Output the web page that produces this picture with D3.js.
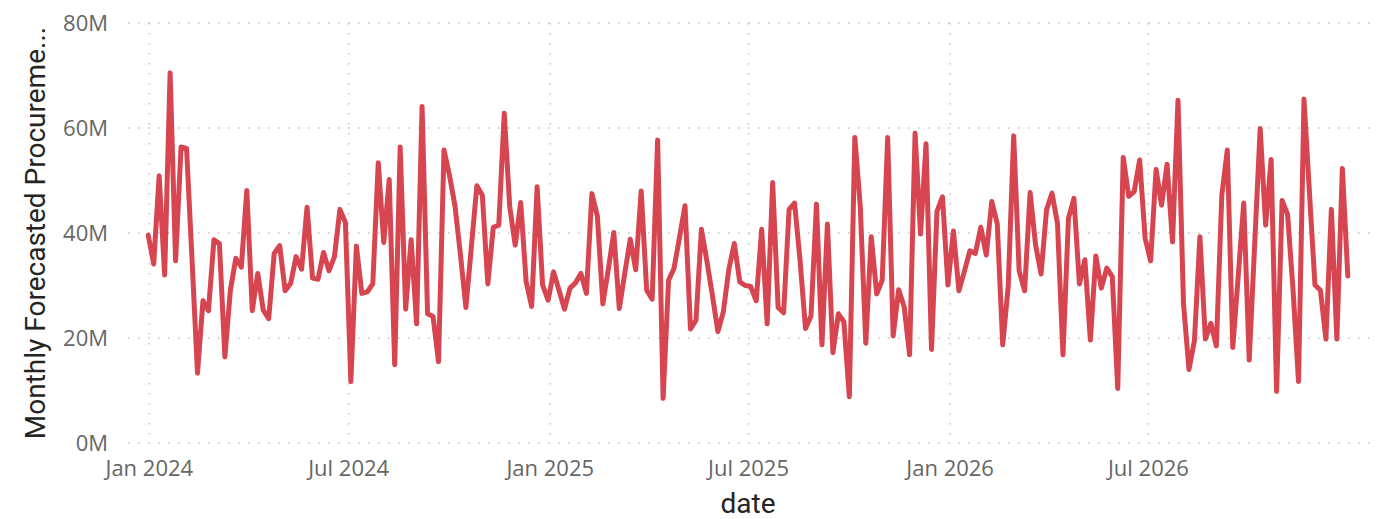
<!DOCTYPE html>
<html>
<head>
<meta charset="utf-8">
<script src="https://cdn.jsdelivr.net/npm/d3@7"></script>
<style>
  html, body { margin: 0; padding: 0; background: #fff; }
  svg { display: block; }
</style>
</head>
<body>
<svg id="chart" width="1377" height="519"></svg>
<script>
// ---- data ----
const seriesName = "Monthly Forecasted Procureme...";
const xTitle = "date";
const firstDate = "2023-12-31";
const stepDays = 5;
const values = [
  39.6, 34.1, 50.9, 32.0, 70.5, 34.7, 56.4, 56.1, 35.0, 13.3,
  27.1, 25.2, 38.7, 38.0, 16.4, 29.1, 35.2, 33.5, 48.1, 25.2,
  32.3, 25.3, 23.7, 36.1, 37.6, 29.0, 30.4, 35.5, 33.1, 44.9,
  31.4, 31.2, 36.3, 32.8, 35.5, 44.5, 42.0, 11.7, 37.5, 28.5,
  28.8, 30.3, 53.4, 38.2, 50.2, 14.9, 56.4, 25.5, 38.7, 22.7,
  64.1, 24.6, 24.1, 15.5, 55.8, 51.0, 45.2, 35.9, 25.8, 37.4,
  49.0, 47.2, 30.3, 41.1, 41.5, 62.8, 45.0, 37.7, 45.8, 30.7,
  26.0, 48.8, 30.1, 27.2, 32.6, 29.1, 25.5, 29.5, 30.5, 32.3,
  28.5, 47.5, 43.2, 26.5, 33.1, 40.1, 25.6, 32.3, 38.8, 33.0,
  48.0, 29.1, 27.4, 57.7, 8.5, 31.0, 33.3, 39.2, 45.2, 21.7,
  23.4, 40.7, 34.6, 28.1, 21.2, 25.0, 33.1, 38.0, 30.7, 30.0,
  29.8, 27.1, 40.7, 22.7, 49.6, 25.8, 24.8, 44.5, 45.7, 34.8,
  21.8, 24.2, 45.5, 18.7, 41.7, 17.2, 24.6, 23.1, 8.8, 58.2,
  45.0, 19.0, 39.3, 28.4, 31.0, 58.2, 20.4, 29.2, 26.0, 16.8,
  59.0, 39.8, 57.0, 17.8, 44.1, 46.9, 30.1, 40.4, 29.0, 32.7,
  36.6, 36.1, 41.1, 35.8, 46.0, 41.8, 18.7, 29.8, 58.5, 32.8,
  29.0, 47.7, 37.7, 32.2, 44.4, 47.6, 41.8, 16.8, 42.8, 46.6,
  30.3, 34.9, 19.6, 35.6, 29.5, 33.3, 31.7, 10.4, 54.4, 47.0,
  47.9, 53.9, 39.0, 34.7, 52.1, 45.3, 53.1, 38.3, 65.3, 26.6,
  14.0, 19.5, 39.3, 19.8, 22.8, 18.5, 47.2, 55.8, 18.2, 31.9,
  45.7, 15.8, 37.9, 59.9, 41.5, 54.0, 9.8, 46.2, 43.6, 29.2,
  11.7, 65.5, 47.7, 30.1, 29.1, 19.8, 44.5, 19.8, 52.3, 31.8
].map(v => v * 1e6);
const yTicks = [0, 20e6, 40e6, 60e6, 80e6];

// ---- build ----
const parse = d3.timeParse("%Y-%m-%d");
const start = parse(firstDate);
const data = values.map((v, i) => ({ date: d3.timeDay.offset(start, i * stepDays), value: v }));

const svg = d3.select("#chart");
const plotLeft = 128, plotRight = 1370;

const x = d3.scaleTime()
  .domain([parse("2024-01-01"), parse("2027-01-01")])
  .range([149.3, 1350]);
const y = d3.scaleLinear().domain([0, 80e6]).range([443, 23]);

const xTicks = d3.timeMonth.every(6).range(parse("2024-01-01"), parse("2027-01-01"));

const gridColor = "#C8C6C4";
// horizontal grid
svg.append("g").selectAll("line").data(yTicks).join("line")
  .attr("x1", plotLeft).attr("x2", plotRight)
  .attr("y1", d => y(d)).attr("y2", d => y(d))
  .attr("stroke", gridColor).attr("stroke-width", 1.6)
  .attr("stroke-dasharray", "1.6,8.4");
// vertical grid
svg.append("g").selectAll("line").data(xTicks).join("line")
  .attr("x1", d => x(d)).attr("x2", d => x(d))
  .attr("y1", y(80e6)).attr("y2", y(0))
  .attr("stroke", gridColor).attr("stroke-width", 1.6)
  .attr("stroke-dasharray", "1.6,8.4");

// y tick labels
const fmtM = d => (d / 1e6) + "M";
svg.append("g").selectAll("text").data(yTicks).join("text")
  .attr("x", 108).attr("y", d => y(d))
  .attr("dy", "0.35em")
  .attr("text-anchor", "end")
  .attr("font-family", "'Open Sans', 'Noto Sans', sans-serif")
  .attr("font-size", 22)
  .attr("fill", "#666666")
  .text(fmtM);

// x tick labels
const fmtX = d3.timeFormat("%b %Y");
svg.append("g").selectAll("text").data(xTicks).join("text")
  .attr("x", d => x(d)).attr("y", 476)
  .attr("text-anchor", "middle")
  .attr("font-family", "'Open Sans', 'Noto Sans', sans-serif")
  .attr("font-size", 22)
  .attr("fill", "#666666")
  .text(fmtX);

// axis titles
svg.append("text")
  .attr("x", 748).attr("y", 513)
  .attr("text-anchor", "middle")
  .attr("font-family", "'Roboto', 'Noto Sans', sans-serif")
  .attr("font-size", 28)
  .attr("fill", "#252423")
  .text(xTitle);

svg.append("text")
  .attr("transform", "translate(45,233) rotate(-90)")
  .attr("text-anchor", "middle")
  .attr("font-family", "'Roboto', 'Noto Sans', sans-serif")
  .attr("font-size", 28)
  .attr("fill", "#252423")
  .text(seriesName);

// line
const line = d3.line().x(d => x(d.date)).y(d => y(d.value));
svg.append("path")
  .datum(data)
  .attr("d", line)
  .attr("fill", "none")
  .attr("stroke", "#D64550")
  .attr("stroke-width", 5)
  .attr("stroke-linejoin", "round")
  .attr("stroke-linecap", "round");
</script>
</body>
</html>
